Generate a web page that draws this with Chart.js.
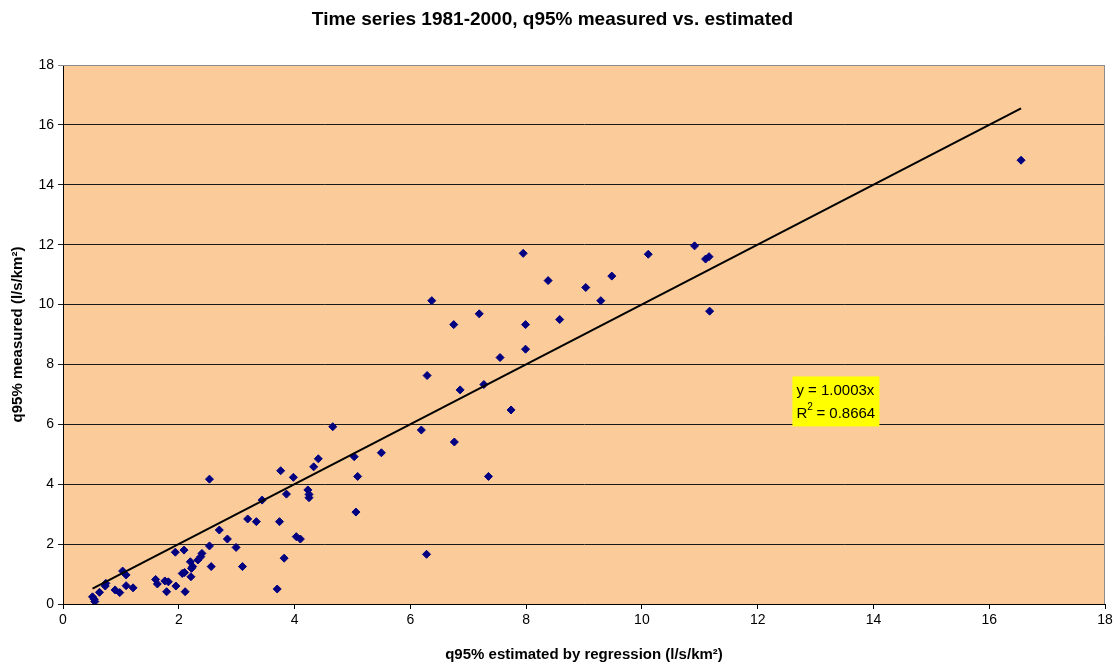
<!DOCTYPE html>
<html>
<head>
<meta charset="utf-8">
<script src="https://cdn.jsdelivr.net/npm/chart.js@4.4.1/dist/chart.umd.min.js"></script>
<style>
  html, body { margin: 0; padding: 0; background: #ffffff; }
  #wrap { width: 1119px; height: 664px; }
</style>
</head>
<body>
<div id="wrap"><canvas id="c" width="1119" height="664"></canvas></div>
<script>
// q95% estimated by regression (x) and measured (y), l/s/km²
const estimated = [0.51,0.54,0.55,0.63,0.73,0.74,0.90,0.98,1.03,1.09,1.09,1.21,1.60,1.63,1.76,1.79,1.82,1.95,1.94,2.09,
  2.06,2.10,2.11,2.21,2.22,2.24,2.20,2.33,2.38,2.40,2.53,2.53,2.56,2.70,2.84,2.99,3.10,3.19,3.34,3.44,
  3.74,3.76,3.82,3.86,3.98,3.70,4.03,4.10,4.23,4.25,4.25,4.33,4.41,4.66,5.03,5.09,5.06,5.50,6.19,6.29,
  6.28,6.37,6.75,6.76,6.86,7.19,7.27,7.35,7.55,7.74,7.95,7.99,7.99,8.38,8.58,9.03,9.29,9.48,10.11,10.91,
  11.10,11.16,11.17,16.55];
const measured = [0.24,0.16,0.08,0.39,0.60,0.69,0.47,0.38,1.10,0.97,0.61,0.54,0.82,0.67,0.77,0.41,0.74,0.60,1.73,1.80,
  1.02,1.05,0.41,0.91,1.19,1.25,1.41,1.47,1.58,1.69,4.17,1.94,1.25,2.47,2.17,1.89,1.25,2.84,2.75,3.47,
  2.75,4.45,1.53,3.67,4.23,0.50,2.25,2.17,3.81,3.66,3.55,4.58,4.85,5.92,4.92,4.26,3.07,5.05,5.81,7.63,
  1.66,10.13,9.33,5.41,7.15,9.69,7.33,4.26,8.23,6.48,11.71,9.33,8.51,10.80,9.50,10.57,10.13,10.95,11.68,11.96,
  11.52,11.60,9.78,14.82];
const trendSlope = 1.0003;
const trendRange = [0.51, 16.55];
const rSquared = 0.8664;
const axisTicks = [0,2,4,6,8,10,12,14,16,18];

const points = estimated.map((x, i) => ({ x: x, y: measured[i] }));
const trendPoints = trendRange.map(x => ({ x: x, y: trendSlope * x }));
const FONT = '"Liberation Sans", Arial, sans-serif';

const plotBg = {
  id: 'plotBg',
  beforeDraw(chart) {
    const a = chart.chartArea, ctx = chart.ctx;
    ctx.save();
    ctx.fillStyle = '#FBCB9A';
    ctx.fillRect(a.left, a.top, a.right - a.left, a.bottom - a.top);
    ctx.restore();
  },
  afterDatasetsDraw(chart) {
    const a = chart.chartArea, ctx = chart.ctx;
    ctx.save();
    ctx.strokeStyle = '#8c8c8c';
    ctx.lineWidth = 1;
    ctx.beginPath();
    ctx.moveTo(a.left, a.top + 0.5);
    ctx.lineTo(a.right - 0.5, a.top + 0.5);
    ctx.lineTo(a.right - 0.5, a.bottom);
    ctx.stroke();
    // equation label
    const xs = chart.scales.x, ys = chart.scales.y;
    const bx = xs.getPixelForValue(12.6), by = ys.getPixelForValue(7.6);
    const bw = 87, bh = 50;
    ctx.fillStyle = '#FFFF00';
    ctx.fillRect(bx, by, bw, bh);
    ctx.fillStyle = '#000';
    ctx.font = '15px ' + FONT;
    ctx.textBaseline = 'middle';
    ctx.fillText('y = ' + trendSlope.toFixed(4) + 'x', bx + 4, by + 14);
    ctx.fillText('R', bx + 4, by + 37);
    const rw = ctx.measureText('R').width;
    ctx.font = '10px ' + FONT;
    ctx.fillText('2', bx + 4 + rw, by + 31);
    ctx.font = '15px ' + FONT;
    ctx.fillText(' = ' + rSquared.toFixed(4), bx + 4 + rw + 5, by + 37);
    ctx.restore();
  }
};

new Chart(document.getElementById('c'), {
  type: 'scatter',
  data: {
    datasets: [
      {
        label: 'q95%',
        data: points,
        pointStyle: 'rectRot',
        pointRadius: 4,
        pointHoverRadius: 4,
        backgroundColor: '#000080',
        borderColor: '#000080',
        borderWidth: 1,
        order: 1
      },
      {
        label: 'Linear trend',
        type: 'line',
        data: trendPoints,
        borderColor: '#000000',
        borderWidth: 2,
        pointRadius: 0,
        fill: false,
        order: 0
      }
    ]
  },
  options: {
    responsive: false,
    animation: false,
    layout: { padding: { left: 0, right: 14, top: 0, bottom: 0 } },
    plugins: {
      legend: { display: false },
      tooltip: { enabled: false },
      title: {
        display: true,
        text: 'Time series 1981-2000, q95% measured vs. estimated',
        color: '#000',
        font: { family: FONT, size: 19, weight: 'bold', lineHeight: 1.2 },
        padding: { top: 8, bottom: 34.2 }
      }
    },
    scales: {
      x: {
        type: 'linear',
        min: 0, max: 18,
        afterBuildTicks(scale) { scale.ticks = axisTicks.map(v => ({ value: v })); },
        afterFit(scale) { scale.height = 60; },
        border: { display: true, color: '#000', width: 1 },
        grid: { display: true, drawOnChartArea: false, drawTicks: true, tickLength: 5, color: '#000' },
        ticks: { color: '#000', padding: 3, font: { family: FONT, size: 14 } },
        title: {
          display: true,
          text: 'q95% estimated by regression (l/s/km²)',
          color: '#000',
          padding: { top: 4, bottom: 0 },
          font: { family: FONT, size: 15, weight: 'bold' }
        }
      },
      y: {
        type: 'linear',
        min: 0, max: 18,
        afterBuildTicks(scale) { scale.ticks = axisTicks.map(v => ({ value: v })); },
        afterFit(scale) { scale.width = 63; },
        border: { display: true, color: '#000', width: 1 },
        grid: {
          display: true, drawOnChartArea: true, drawTicks: true, tickLength: 5,
          color: ctx => (ctx.tick && ctx.tick.value === 18) ? '#8c8c8c' : '#1a1a1a',
          lineWidth: 1
        },
        ticks: { color: '#000', padding: 4, font: { family: FONT, size: 14 } },
        title: {
          display: true,
          text: 'q95% measured (l/s/km²)',
          color: '#000',
          padding: { top: 9, bottom: 4 },
          font: { family: FONT, size: 15, weight: 'bold' }
        }
      }
    }
  },
  plugins: [plotBg]
});
</script>
</body>
</html>
